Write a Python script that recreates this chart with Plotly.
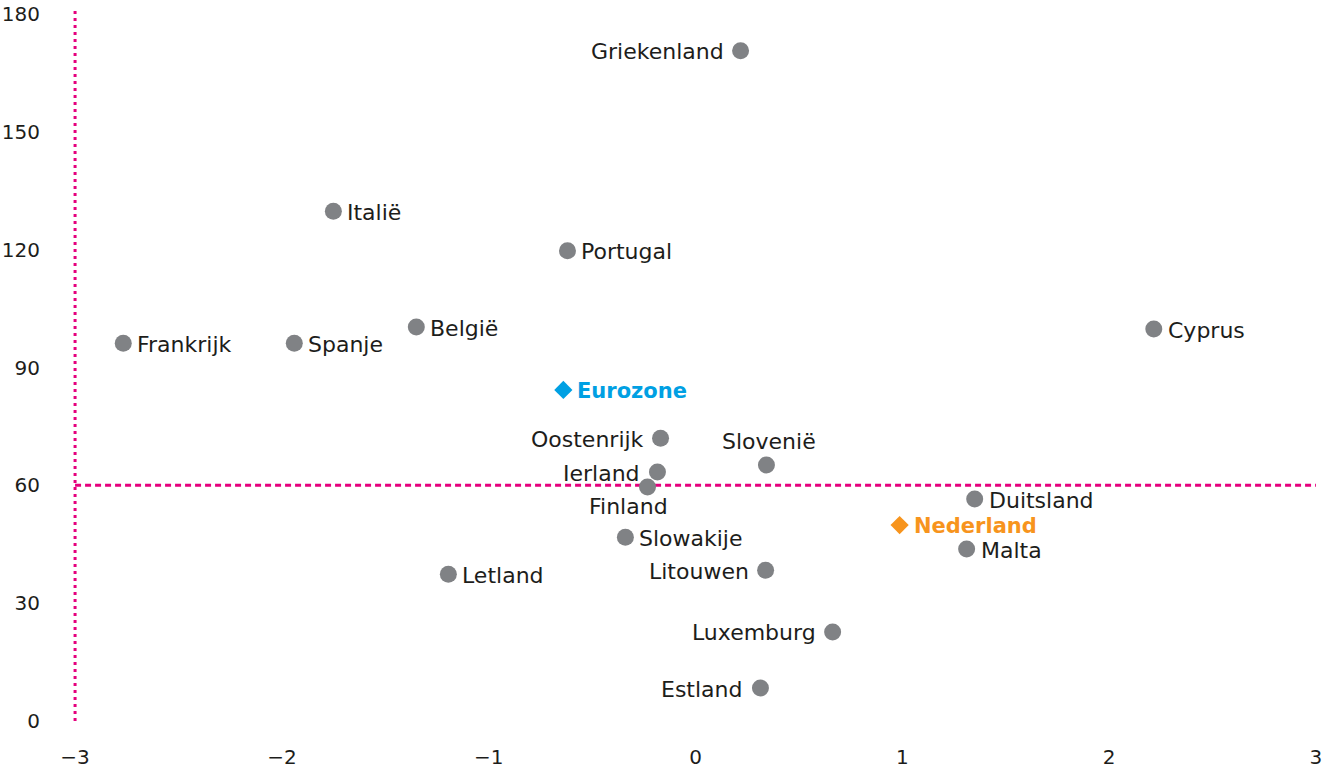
import plotly.graph_objects as go

countries = ["Griekenland", "Italië", "Portugal", "België", "Frankrijk", "Spanje", "Cyprus",
             "Oostenrijk", "Slovenië", "Ierland", "Finland", "Duitsland", "Malta", "Slowakije",
             "Letland", "Litouwen", "Luxemburg", "Estland"]
x_vals = [0.218, -1.751, -0.619, -1.350, -2.767, -1.940, 2.216,
          -0.169, 0.343, -0.184, -0.232, 1.350, 1.311, -0.339,
          -1.195, 0.339, 0.663, 0.314]
y_vals = [170.6, 129.8, 119.7, 100.3, 96.2, 96.2, 99.8,
          72.0, 65.2, 63.4, 59.6, 56.5, 43.8, 46.8,
          37.4, 38.4, 22.7, 8.4]
label_pos = ["l", "r", "r", "r", "r", "r", "r",
             "l", "t", "l", "b", "r", "r", "r",
             "r", "l", "l", "l"]

highlight_names = ["Eurozone", "Nederland"]
highlight_x = [-0.639, 0.987]
highlight_y = [84.3, 49.9]
highlight_colors = ["#00a0e3", "#f7941d"]

x_ticks = [-3, -2, -1, 0, 1, 2, 3]
x_ticktext = ["−3", "−2", "−1", "0", "1", "2", "3"]
y_ticks = [0, 30, 60, 90, 120, 150, 180]

threshold_x = -3
threshold_y = 60

FONT = "DejaVu Sans, Liberation Sans, sans-serif"
TXT = "#1d1d1b"
GREY = "#808285"
MAG = "#e5007d"

fig = go.Figure()
fig.add_trace(go.Scatter(x=x_vals, y=y_vals, mode="markers",
                         marker=dict(size=17, color=GREY, line=dict(width=0)),
                         hoverinfo="text", text=countries, showlegend=False, cliponaxis=False))
fig.add_trace(go.Scatter(x=highlight_x, y=highlight_y, mode="markers",
                         marker=dict(size=14, symbol="diamond", color=highlight_colors, line=dict(width=0)),
                         hoverinfo="text", text=highlight_names, showlegend=False, cliponaxis=False))

offsets = {"r": dict(xanchor="left", yanchor="middle", xshift=12, yshift=-1),
           "l": dict(xanchor="right", yanchor="middle", xshift=-15, yshift=-1),
           "t": dict(xanchor="center", yanchor="middle", xshift=3, yshift=23),
           "b": dict(xanchor="center", yanchor="middle", xshift=-19, yshift=-20)}

annotations = []
for name, x, y, p in zip(countries, x_vals, y_vals, label_pos):
    annotations.append(dict(x=x, y=y, text=name, showarrow=False,
                            font=dict(family=FONT, size=22, color=TXT), **offsets[p]))
for name, x, y, c in zip(highlight_names, highlight_x, highlight_y, highlight_colors):
    annotations.append(dict(x=x, y=y, text="<b>" + name + "</b>", showarrow=False,
                            font=dict(family=FONT, size=21, color=c), **offsets["r"]))

shapes = [
    dict(type="line", xref="x", yref="y", x0=threshold_x, x1=threshold_x, y0=0, y1=181,
         line=dict(color=MAG, width=3, dash="3px,4px"), layer="below"),
    dict(type="line", xref="x", yref="y", x0=-3, x1=3.0, y0=threshold_y, y1=threshold_y,
         line=dict(color=MAG, width=3, dash="6px,4px"), layer="below"),
]

fig.update_layout(
    width=1322, height=771,
    margin=dict(l=73, r=4, t=10, b=46),
    paper_bgcolor="white", plot_bgcolor="white",
    font=dict(family=FONT, size=20, color=TXT),
    annotations=annotations, shapes=shapes,
    xaxis=dict(range=[-3.01, 3.01], tickvals=x_ticks, ticktext=x_ticktext, showgrid=False,
               zeroline=False, showline=False, ticks="outside", ticklen=14, automargin=False,
               ticklabeloverflow="allow",
               tickcolor="rgba(0,0,0,0)", tickfont=dict(family=FONT, size=20, color=TXT)),
    yaxis=dict(range=[-1, 181], tickvals=y_ticks, showgrid=False, zeroline=False,
               showline=False, ticks="outside", ticklen=28, tickcolor="rgba(0,0,0,0)",
               automargin=False, tickfont=dict(family=FONT, size=20, color=TXT)),
)

fig.write_html("out.html")
